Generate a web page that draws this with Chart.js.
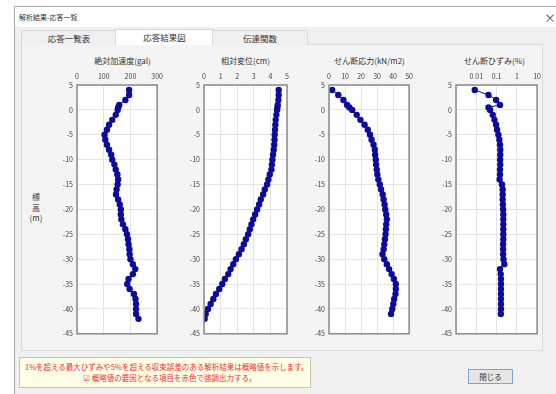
<!DOCTYPE html>
<html lang="ja">
<head>
<meta charset="utf-8">
<script src="https://cdn.jsdelivr.net/npm/chart.js@4.4.1/dist/chart.umd.min.js"></script>
<style>
  html, body { margin: 0; padding: 0; background: #ffffff; width: 556px; height: 394px; overflow: hidden; }
  body { font-family: "Noto Sans CJK JP", "Noto Sans", sans-serif; position: relative; }
  .win { position: absolute; left: 14px; top: 6px; width: 560px; height: 400px; border: 1px solid #a8a8a8; background: #f0f0f0; }
  .titlebar { position: absolute; left: 0; top: 0; right: 0; height: 20px; background: #ffffff; }
  .titletext { position: absolute; left: 4px; top: 5px; font-size: 7px; color: #333; }
  .close { position: absolute; left: 529px; top: 2px; font-size: 12px; color: #555; }
  .tab { position: absolute; top: 23px; height: 14px; border: 1px solid #d9d9d9; border-bottom: none; background: #f0f0f0; font-size: 8.5px; color: #333; text-align: center; line-height: 14px; }
  .tab.sel { background: #ffffff; top: 22px; height: 15px; }
  .panel { position: absolute; left: 6px; top: 37px; width: 520px; height: 305px; border: 1px solid #dadada; background: #f4f4f4; }
  .ctitle { position: absolute; top: 55px; font-size: 8px; color: #333; text-align: center; white-space: nowrap; }
  .ylab { position: absolute; left: 29px; top: 192px; font-size: 8px; color: #333; line-height: 10.5px; text-align: center; width: 14px; }
  canvas { position: absolute; }
  .note { position: absolute; left: 19px; top: 357px; width: 290px; height: 29px; background: #ffffe8; border: 1px solid #c9c6a6; color: #f03030; font-size: 7.5px; }
  .note .l1 { position: absolute; left: 5px; top: 3px; white-space: nowrap; }
  .note .l2 { position: absolute; left: 63px; top: 14px; white-space: nowrap; }
  .btn { position: absolute; left: 468px; top: 369px; width: 43px; height: 13px; border: 1px solid #7ea3d6; background: #e6e6e6; font-size: 7.5px; color: #333; text-align: center; line-height: 13px; }
</style>
</head>
<body>
<div class="win">
  <div class="titlebar"><span class="titletext">解析結果-応答一覧</span><span class="close">×</span></div>
  <div class="panel"></div>
  <div class="tab" style="left:6px;width:94px;">応答一覧表</div>
  <div class="tab sel" style="left:100px;width:97px;">応答結果図</div>
  <div class="tab" style="left:197px;width:94px;">伝達関数</div>
</div>

<div class="ctitle" style="left:80px;width:85px;">絶対加速度(gal)</div>
<div class="ctitle" style="left:203px;width:85px;">相対変位(cm)</div>
<div class="ctitle" style="left:327px;width:85px;">せん断応力(kN/m2)</div>
<div class="ctitle" style="left:452px;width:85px;">せん断ひずみ(%)</div>
<div class="ylab">標<br>高<br>(m)</div>

<canvas id="c1"></canvas>
<canvas id="c2"></canvas>
<canvas id="c3"></canvas>
<canvas id="c4"></canvas>

<div class="note">
  <span class="l1">1%を超える最大ひずみや5%を超える収束誤差のある解析結果は概略値を示します。</span>
  <span class="l2">☑ 概略値の要因となる項目を赤色で強調出力する。</span>
</div>
<div class="btn">閉じる</div>

<script>
// Elevations (m) of the nodes and of the layer points
const nodeDepths = [4, 3, 2, 1, 0.5, 0, -1, -2, -3, -4, -5, -6, -7, -8, -9, -10,
  -11, -12, -13, -14, -15, -16, -17, -18, -19, -20, -21, -22, -23, -24, -25,
  -26, -27, -28, -29, -30, -31, -32, -33, -34, -35, -36, -37, -38, -39, -40, -41, -42];
const layerDepths = [4, 3, 2, 1, 0.5, 0, -1, -2, -3, -4, -5, -6, -7, -8, -9, -10,
  -11, -12, -13, -14, -15, -16, -17, -18, -19, -20, -21, -22, -23, -24, -25,
  -26, -27, -28, -29, -30, -31, -32, -33, -34, -35, -36, -37, -38, -39, -40, -41];

// 絶対加速度 (gal)
const accel = [195, 195, 181, 158, 154, 152, 145, 132, 120, 112, 103, 106, 112, 120,
  128, 132, 140, 145, 151, 154, 152, 148, 146, 154, 160, 164, 164, 166, 172, 181,
  187, 191, 193, 196, 197, 200, 209, 218, 209, 193, 188, 197, 213, 219, 221, 221, 221, 230];
// 相対変位 (cm)
const disp = [4.5, 4.5, 4.48, 4.44, 4.42, 4.4, 4.36, 4.32, 4.3, 4.28, 4.26, 4.25, 4.23,
  4.2, 4.16, 4.12, 4.09, 4.06, 3.96, 3.88, 3.8, 3.66, 3.56, 3.42, 3.32, 3.2, 3.08,
  2.96, 2.86, 2.76, 2.66, 2.52, 2.4, 2.26, 2.1, 1.92, 1.76, 1.6, 1.46, 1.26, 1.1,
  0.92, 0.72, 0.56, 0.4, 0.24, 0.1, 0.04];
// せん断応力 (kN/m2)
const stress = [2, 5.8, 9, 11.3, 12.7, 14.5, 17.3, 19.6, 22.2, 24.2, 25.6, 26.6, 27.8,
  28.6, 28.8, 29.2, 29.4, 29.8, 30.2, 30.8, 31.7, 32.5, 33.5, 34.1, 34.7, 35.1, 35.7,
  36.1, 35.7, 35.5, 35.3, 34.9, 34.5, 34.1, 33.4, 34.5, 36.1, 37.5, 39.1, 40.5, 41.7,
  41.7, 41.5, 40.7, 40.1, 39.5, 38.7];
// せん断ひずみ (%)
const strain = [0.0084, 0.04, 0.095, 0.148, 0.04, 0.048, 0.065, 0.079, 0.095, 0.106,
  0.123, 0.138, 0.148, 0.153, 0.152, 0.15, 0.152, 0.148, 0.148, 0.142, 0.185, 0.2,
  0.2, 0.2, 0.205, 0.21, 0.215, 0.215, 0.215, 0.215, 0.215, 0.215, 0.21, 0.21, 0.21,
  0.22, 0.24, 0.148, 0.16, 0.165, 0.165, 0.165, 0.165, 0.165, 0.165, 0.165, 0.162];

// Axis tick labels
const elevTicks = [5, 0, -5, -10, -15, -20, -25, -30, -35, -40, -45];
const accelTicks = [0, 100, 200, 300];
const dispTicks = [0, 1, 2, 3, 4, 5];
const stressTicks = [0, 10, 20, 30, 40, 50];
const strainTicks = [0.001, 0.01, 0.1, 1, 10];
const strainTickText = ['', '0.01', '0.1', '1', '10'];

const MARK = '#0c0c9c';
const tickFont = { family: '"Noto Sans CJK JP", "Noto Sans", sans-serif', size: 7 };

const frame = {
  id: 'frame',
  afterDraw(chart) {
    const a = chart.chartArea, ctx = chart.ctx;
    ctx.save();
    ctx.strokeStyle = '#8a8a8a';
    ctx.lineWidth = 1.5;
    ctx.strokeRect(a.left, a.top, a.right - a.left, a.bottom - a.top);
    ctx.restore();
  }
};
const plotBg = {
  id: 'plotBg',
  beforeDraw(chart) {
    const a = chart.chartArea, ctx = chart.ctx;
    ctx.save();
    ctx.fillStyle = '#ffffff';
    ctx.fillRect(a.left, a.top, a.right - a.left, a.bottom - a.top);
    ctx.restore();
  }
};

function makeChart(id, plotLeft, plotRight, depths, values, xOpts) {
  const yW = 28, xH = 17, padR = 7, padB = 6, top = 68, plotBottom = 336;
  const cv = document.getElementById(id);
  const w = yW + (plotRight - plotLeft) + padR;
  const h = plotBottom - top + padB;
  cv.width = w; cv.height = h;
  cv.style.left = (plotLeft - yW) + 'px';
  cv.style.top = top + 'px';
  cv.style.width = w + 'px';
  cv.style.height = h + 'px';
  const pts = depths.map((d, i) => ({ x: values[i], y: d }));
  return new Chart(cv, {
    type: 'scatter',
    data: { datasets: [{
      data: pts, showLine: true, borderColor: MARK, borderWidth: 1,
      pointRadius: 3.2, pointBackgroundColor: MARK, pointBorderWidth: 0
    }] },
    options: {
      responsive: false, animation: false, devicePixelRatio: 1,
      layout: { autoPadding: false, padding: { left: 0, top: 0, right: padR, bottom: padB } },
      plugins: { legend: { display: false }, tooltip: { enabled: false } },
      scales: {
        x: Object.assign({
          position: 'top',
          grid: { color: '#e4e4e4', drawTicks: false },
          border: { display: false },
          afterFit: s => { s.height = xH; }
        }, xOpts),
        y: {
          min: -45, max: 5,
          afterBuildTicks: s => { s.ticks = elevTicks.map(v => ({ value: v })); },
          ticks: { font: tickFont, color: '#444', padding: 4 },
          grid: { color: '#e4e4e4', drawTicks: false },
          border: { display: false },
          afterFit: s => { s.width = yW; }
        }
      }
    },
    plugins: [plotBg, frame]
  });
}

function linearX(min, max, ticks) {
  return {
    type: 'linear', min, max,
    afterBuildTicks: s => { s.ticks = ticks.map(v => ({ value: v })); },
    ticks: { font: tickFont, color: '#444', padding: 4, maxRotation: 0 }
  };
}

makeChart('c1', 77, 160, nodeDepths, accel, linearX(0, 300, accelTicks));
makeChart('c2', 204, 287, nodeDepths, disp, linearX(0, 5, dispTicks));
makeChart('c3', 329, 410, layerDepths, stress, linearX(0, 50, stressTicks));
makeChart('c4', 456, 538, layerDepths, strain, {
  type: 'logarithmic', min: 0.001, max: 10,
  afterBuildTicks: s => { s.ticks = strainTicks.map(v => ({ value: v })); },
  ticks: {
    font: tickFont, color: '#444', padding: 4, maxRotation: 0, autoSkip: false,
    callback: (v) => strainTickText[strainTicks.indexOf(v)] ?? ''
  }
});
</script>
</body>
</html>
